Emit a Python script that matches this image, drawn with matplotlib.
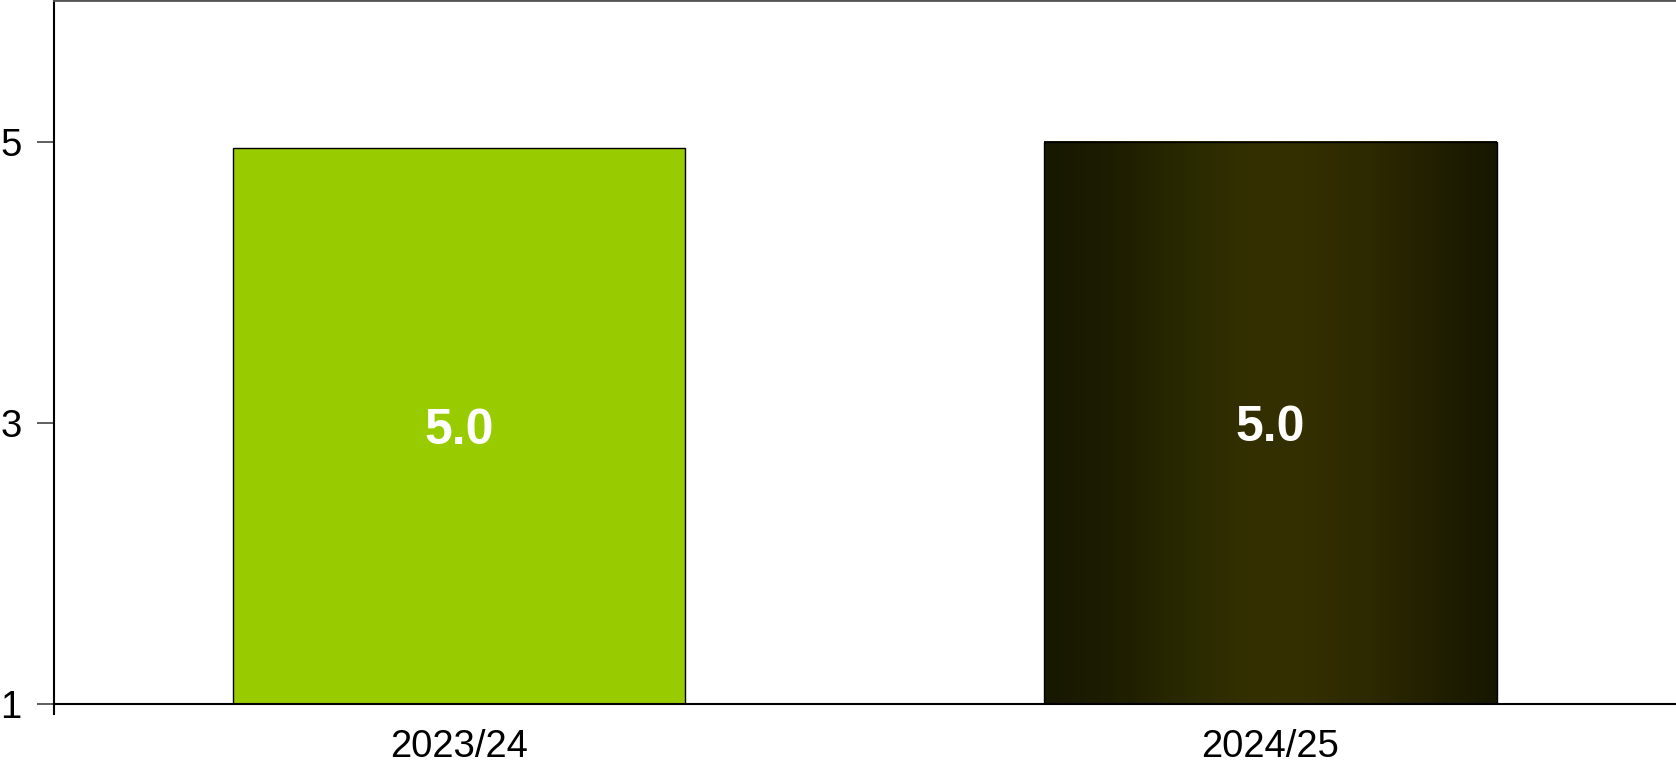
import numpy as np
import matplotlib
matplotlib.use("Agg")
import matplotlib.pyplot as plt
from matplotlib.colors import LinearSegmentedColormap

# Données
saisons = ["2023/24", "2024/25"]
valeurs = [4.96, 5.0]
yticks = [1, 3, 5]

plt.rcParams['font.family'] = ['Liberation Sans', 'DejaVu Sans']

fig = plt.figure(figsize=(16.76, 7.61), dpi=100)
ax = fig.add_axes([53.5 / 1676, 57 / 761, (1676 - 53.5) / 1676, 704 / 761])

base = 1
largeur = 0.558
x = np.arange(len(saisons))

# Dégradé horizontal pour la deuxième barre
degrade = LinearSegmentedColormap.from_list("sombre", [
    (0.0, "#161800"), (0.15, "#1d1d00"), (0.32, "#2a2a00"),
    (0.45, "#332f00"), (0.58, "#332f00"), (0.72, "#2d2900"),
    (0.87, "#201f00"), (1.0, "#171700")])

# Barre 1 : vert uni
ax.bar(x[0], valeurs[0] - base, bottom=base, width=largeur,
       color="#99cc00", edgecolor="black", linewidth=1, zorder=2)

# Barre 2 : dégradé
g = np.linspace(0, 1, 256).reshape(1, -1)
ax.imshow(g, cmap=degrade, aspect="auto", interpolation="bilinear",
          extent=[x[1] - largeur / 2, x[1] + largeur / 2, base, valeurs[1]], zorder=2)
ax.bar(x[1], valeurs[1] - base, bottom=base, width=largeur,
       color="none", edgecolor="black", linewidth=1, zorder=3)

# Étiquettes de valeur au centre des barres
taille = 36
for xi, v in zip(x, valeurs):
    ax.annotate(f"{v:.1f}", (xi, (v + base) / 2), xytext=(0, -0.358 * taille),
                textcoords="offset points", ha="center", va="baseline",
                color="white", fontsize=taille, fontweight="bold", zorder=4)

ax.set_xlim(-0.5, 1.5)
ax.set_ylim(1, 6.01)
ax.set_yticks(yticks)
ax.set_yticklabels([str(t) for t in yticks])
ax.set_xticks(x)
ax.set_xticklabels(saisons)
ax.tick_params(axis="y", length=12, width=1.2, color="#444444", labelsize=27.5, pad=11)
ax.tick_params(axis="x", length=0, labelsize=27.5, pad=18)

ax.spines["right"].set_visible(False)
ax.spines["top"].set_color("#555555")
ax.spines["top"].set_linewidth(2)
ax.spines["left"].set_linewidth(1.5)
ax.spines["bottom"].set_linewidth(1.5)
# petit prolongement de l'axe vertical sous l'axe horizontal
ax.plot([0, 0], [0, -10 / 704], transform=ax.transAxes, color="black",
        linewidth=1.5, clip_on=False)

fig.savefig("out.png", dpi=100)
